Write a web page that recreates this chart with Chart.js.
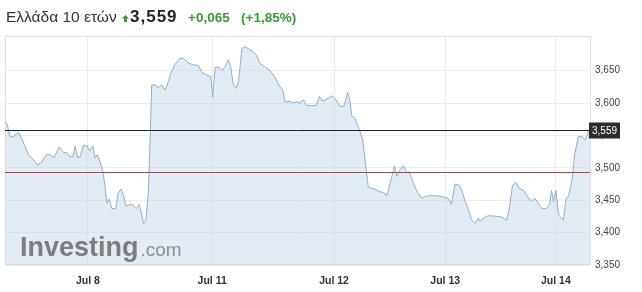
<!DOCTYPE html>
<html>
<head>
<meta charset="utf-8">
<script src="https://cdn.jsdelivr.net/npm/chart.js@4.4.0/dist/chart.umd.min.js"></script>
<style>
body { margin: 0; background: #fff; font-family: Arial, "Liberation Sans", sans-serif; }
#wrap { position: relative; width: 642px; height: 292px; }
#hdr span { position: absolute; white-space: nowrap; line-height: 1; }
#c { position: absolute; left: 0; top: 0; }
</style>
</head>
<body>
<div id="wrap">
	<canvas id="c" width="642" height="292"></canvas>
	<div id="hdr">
		<span style="left:6px;top:9px;font-size:15.5px;color:#333">Ελλάδα 10 ετών</span>
		<span style="left:122px;top:10px"><svg width="7" height="8"><polygon points="3.5,0 7,3.5 5,3.5 5,7 2,7 2,3.5 0,3.5" fill="#3a9a35"/></svg></span>
		<span style="left:130px;top:8px;font-size:17px;font-weight:bold;color:#222;letter-spacing:1px">3,559</span>
		<span style="left:188px;top:11px;font-size:13.5px;font-weight:bold;color:#3a9a35">+0,065</span>
		<span style="left:241px;top:11px;font-size:13.5px;font-weight:bold;color:#3a9a35">(+1,85%)</span>
	</div>
</div>
<script>
// trading time (hours from start of window) and yield values
var times = [0, 0.5, 1.0, 1.7, 2.7, 3.4, 4.1, 4.8, 5.8, 6.7, 7.5, 8.6, 9.2, 10.1, 11.1, 12.0, 12.7, 13.3, 13.9, 14.4,
	14.9, 15.4, 16.1, 16.8, 17.4, 18.0, 18.5, 18.9, 19.5, 20.0, 20.5, 20.9, 21.4, 21.9, 22.7, 23.2, 23.8, 24.3, 24.8, 25.5,
	26.2, 26.9, 27.5, 28.0, 28.4, 28.9, 29.4, 29.7, 30.1, 30.8, 31.4, 32.1, 32.8, 33.5, 34.0, 34.9, 35.9, 36.6, 37.6, 38.6,
	39.7, 40.3, 41.4, 42.2, 42.6, 43.1, 43.8, 44.5, 45.1, 45.8, 46.3, 46.8, 47.4, 47.9, 48.6, 49.2, 49.9, 50.9, 51.6, 52.3,
	53.3, 54.4, 55.4, 56.4, 57.0, 57.4, 58.5, 59.1, 59.8, 60.5, 61.2, 61.9, 62.9, 63.8, 64.5, 65.2, 66.0, 67.0, 67.9, 68.7,
	69.5, 70.3, 70.8, 71.1, 71.8, 72.5, 73.4, 73.8, 74.3, 74.5, 75.2, 75.9, 76.9, 77.6, 78.3, 79.0, 79.9, 80.4, 81.0, 81.7,
	82.4, 82.9, 83.8, 84.6, 85.5, 86.2, 87.2, 88.6, 89.9, 90.9, 91.6, 92.3, 93.2, 93.7, 94.4, 95.0, 95.7, 96.4, 97.1, 97.4,
	98.1, 99.1, 99.8, 100.9, 101.9, 102.9, 103.4, 104.1, 104.8, 105.5, 106.3, 107.0, 107.7, 108.2, 108.7, 109.4, 110.1, 111.0, 111.7, 112.1,
	112.5, 113.0, 113.5, 113.8, 114.5, 115.1, 115.6, 116.3, 116.9, 117.6, 118.3, 119.0, 119.7, 120];
var values = [3.572, 3.566, 3.548, 3.548, 3.555, 3.546, 3.533, 3.520, 3.513, 3.504, 3.509, 3.521, 3.520, 3.516, 3.532, 3.524, 3.523, 3.517, 3.517, 3.533,
	3.516, 3.517, 3.535, 3.534, 3.526, 3.534, 3.515, 3.520, 3.509, 3.497, 3.473, 3.445, 3.452, 3.437, 3.437, 3.461, 3.467, 3.458, 3.441, 3.443,
	3.443, 3.437, 3.443, 3.430, 3.414, 3.419, 3.461, 3.527, 3.628, 3.628, 3.623, 3.628, 3.620, 3.633, 3.646, 3.660, 3.669, 3.669, 3.662, 3.659,
	3.658, 3.648, 3.643, 3.641, 3.609, 3.655, 3.656, 3.650, 3.656, 3.667, 3.656, 3.630, 3.623, 3.633, 3.684, 3.687, 3.684, 3.679, 3.674, 3.661,
	3.656, 3.650, 3.639, 3.625, 3.620, 3.602, 3.603, 3.600, 3.602, 3.600, 3.605, 3.596, 3.596, 3.596, 3.610, 3.603, 3.606, 3.611, 3.605, 3.595,
	3.595, 3.616, 3.602, 3.581, 3.576, 3.563, 3.543, 3.515, 3.484, 3.471, 3.468, 3.467, 3.463, 3.462, 3.457, 3.476, 3.503, 3.487, 3.497, 3.503,
	3.493, 3.494, 3.476, 3.462, 3.453, 3.456, 3.457, 3.457, 3.455, 3.453, 3.444, 3.475, 3.473, 3.466, 3.448, 3.437, 3.420, 3.414, 3.422, 3.418,
	3.422, 3.426, 3.426, 3.425, 3.424, 3.419, 3.435, 3.473, 3.477, 3.468, 3.466, 3.458, 3.450, 3.450, 3.453, 3.445, 3.437, 3.437, 3.443, 3.465,
	3.448, 3.465, 3.430, 3.425, 3.419, 3.453, 3.456, 3.481, 3.522, 3.548, 3.549, 3.543, 3.556, 3.559];

var dayTicks = [17, 42.5, 67.5, 90.3, 113];
var dayLabels = ['Jul 8', 'Jul 11', 'Jul 12', 'Jul 13', 'Jul 14'];
var yTicks = [3.35, 3.40, 3.45, 3.50, 3.55, 3.60, 3.65];
var lastValue = 3.559;
var prevClose = 3.494;

function fmt(v) {
	return v.toFixed(3).replace('.', ',');
}

var points = [];
for (var i in times) {
	points.push({x: times[i], y: values[i]});
}

var extras = {
	id: 'extras',
	beforeDatasetsDraw: function(chart) {
		var ctx = chart.ctx, ca = chart.chartArea;
		ctx.save();
		ctx.strokeStyle = '#e0e0e0';
		ctx.lineWidth = 1;
		ctx.strokeRect(ca.left + 0.5, ca.top - 0.5, ca.right - ca.left, ca.bottom - ca.top);
		ctx.restore();
	},
	afterDatasetsDraw: function(chart) {
		var ctx = chart.ctx, ca = chart.chartArea, ys = chart.scales.y;
		ctx.save();
		// watermark
		ctx.textBaseline = 'alphabetic';
		ctx.font = 'bold 27px Arial, "Liberation Sans", sans-serif';
		ctx.fillStyle = '#7d7d7d';
		ctx.fillText('Investing', 20, 256);
		var w = ctx.measureText('Investing').width;
		ctx.font = '19px Arial, "Liberation Sans", sans-serif';
		ctx.fillStyle = '#8e8e8e';
		ctx.fillText('.com', 20 + w + 2, 256);

		// previous close
		var yr = Math.round(ys.getPixelForValue(prevClose)) + 0.5;
		ctx.strokeStyle = '#b04848';
		ctx.lineWidth = 1;
		ctx.beginPath();
		ctx.moveTo(ca.left, yr);
		ctx.lineTo(ca.right, yr);
		ctx.stroke();

		// last value
		var yl = Math.round(ys.getPixelForValue(lastValue)) + 0.5;
		ctx.strokeStyle = '#222';
		ctx.beginPath();
		ctx.moveTo(ca.left, yl);
		ctx.lineTo(ca.right, yl);
		ctx.stroke();
		ctx.fillStyle = '#2d2d2d';
		ctx.fillRect(ca.right - 1, yl - 8, 31, 16);
		ctx.fillStyle = '#fff';
		ctx.font = '10px Arial, "Liberation Sans", sans-serif';
		ctx.textBaseline = 'middle';
		ctx.fillText(fmt(lastValue), ca.right + 2, yl + 0.5);
		ctx.restore();
	}
};

var chart = new Chart(document.getElementById('c'), {
	type: 'line',
	data: {
		datasets: [{
			data: points,
			borderColor: '#92aec7',
			borderWidth: 1,
			backgroundColor: 'rgba(200, 218, 233, 0.5)',
			fill: 'start',
			pointRadius: 0,
			tension: 0
		}]
	},
	options: {
		responsive: false,
		animation: false,
		layout: {padding: {left: 5, top: 37, right: 0, bottom: 0}},
		plugins: {legend: {display: false}, tooltip: {enabled: false}},
		scales: {
			x: {
				type: 'linear',
				min: 0,
				max: 120,
				afterBuildTicks: function(s) {
					s.ticks = dayTicks.map(function(v) { return {value: v}; });
				},
				afterFit: function(s) { s.height = 27; },
				ticks: {
					autoSkip: false,
					maxRotation: 0,
					padding: 10,
					color: '#333',
					font: {family: 'Arial, "Liberation Sans", sans-serif', size: 10.5, weight: 'bold'},
					callback: function(v, i) { return dayLabels[i]; }
				},
				grid: {color: '#ececec', drawTicks: false},
				border: {display: false}
			},
			y: {
				position: 'right',
				min: 3.35,
				max: 3.702,
				afterBuildTicks: function(s) {
					s.ticks = yTicks.map(function(v) { return {value: v}; });
				},
				afterFit: function(s) { s.width = 52; },
				ticks: {
					padding: 5,
					color: '#444',
					font: {family: 'Arial, "Liberation Sans", sans-serif', size: 10},
					callback: function(v) { return fmt(v); }
				},
				grid: {color: '#ececec', drawTicks: false},
				border: {display: false}
			}
		}
	},
	plugins: [extras]
});
</script>
</body>
</html>
